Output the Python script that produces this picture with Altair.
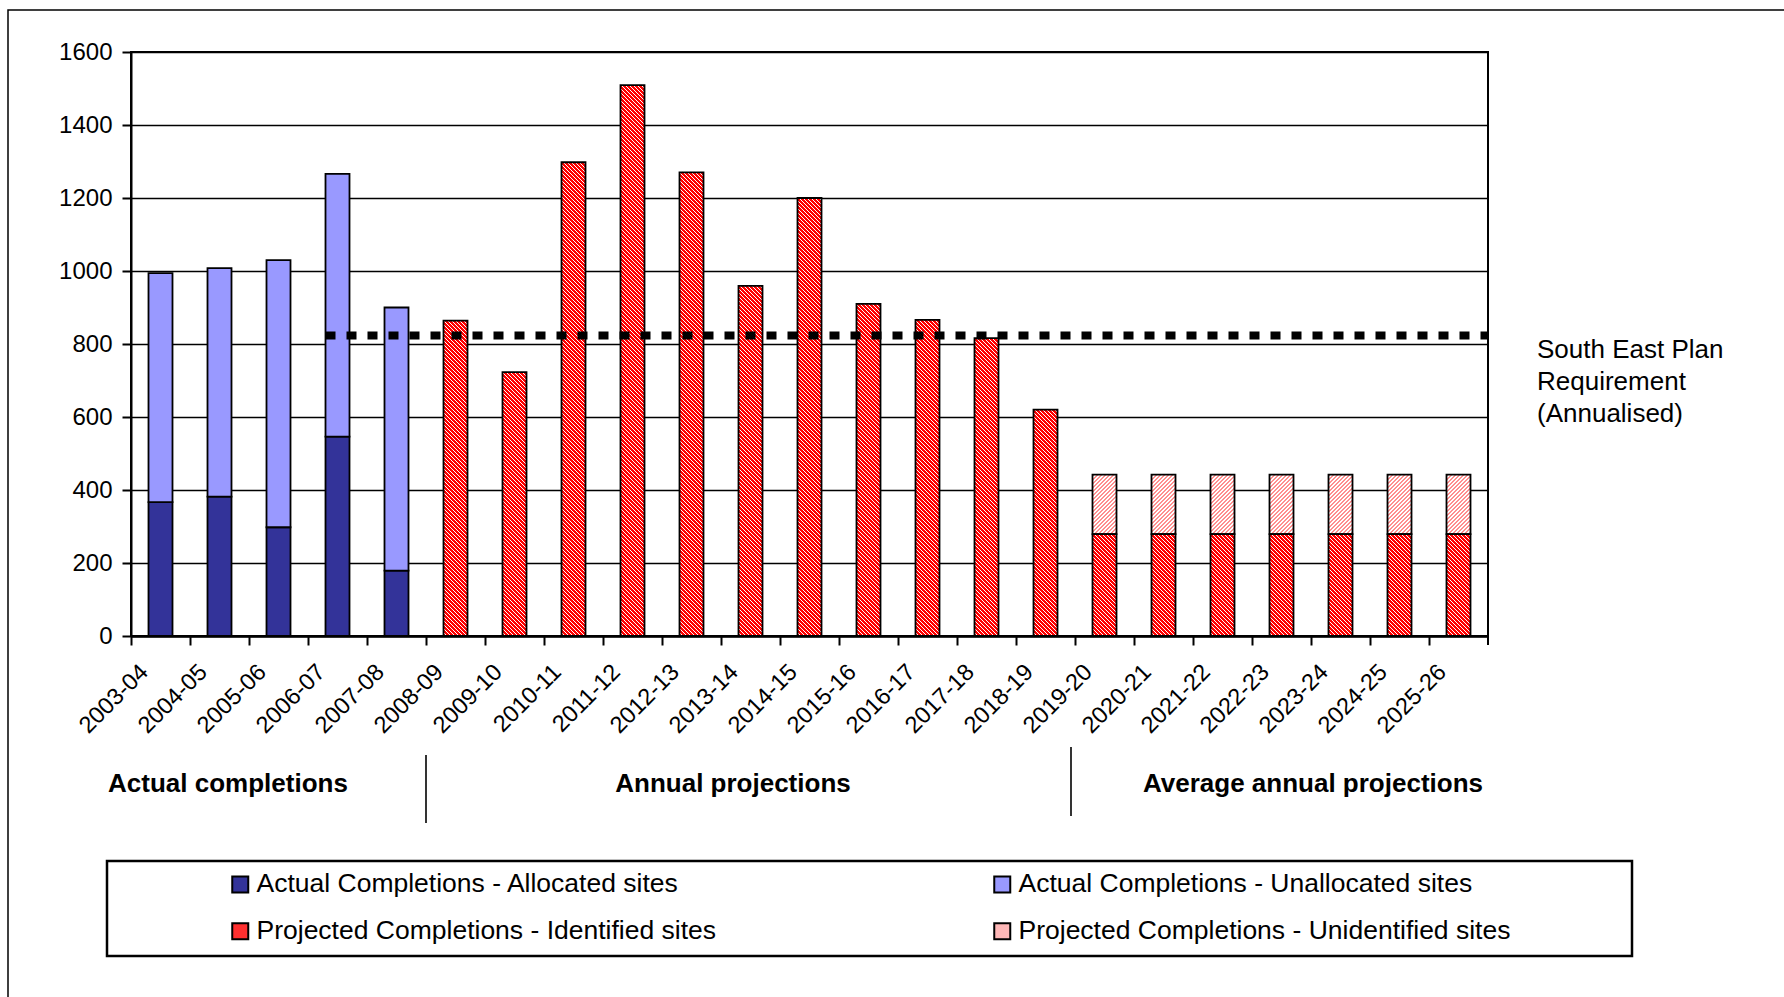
import math
import pandas as pd
import altair as alt

# ---------------- data ----------------
categories = ["2003-04", "2004-05", "2005-06", "2006-07", "2007-08", "2008-09",
              "2009-10", "2010-11", "2011-12", "2012-13", "2013-14", "2014-15",
              "2015-16", "2016-17", "2017-18", "2018-19", "2019-20", "2020-21",
              "2021-22", "2022-23", "2023-24", "2024-25", "2025-26"]
actual_cats = ["2003-04", "2004-05", "2005-06", "2006-07", "2007-08"]
allocated = [367, 382, 298, 546, 179]
unallocated = [627, 626, 732, 720, 721]
projected_cats = ["2008-09", "2009-10", "2010-11", "2011-12", "2012-13", "2013-14",
                  "2014-15", "2015-16", "2016-17", "2017-18", "2018-19", "2019-20",
                  "2020-21", "2021-22", "2022-23", "2023-24", "2024-25", "2025-26"]
identified = [864, 723, 1298, 1509, 1270, 959, 1200, 910, 866, 816, 620,
              279, 279, 279, 279, 279, 279, 279]
average_cats = ["2019-20", "2020-21", "2021-22", "2022-23", "2023-24", "2024-25", "2025-26"]
unidentified = [163, 163, 163, 163, 163, 163, 163]
requirement = 823
requirement_from = "2006-07"
requirement_to = "2025-26"
series_names = ["Actual Completions - Allocated sites",
                "Actual Completions - Unallocated sites",
                "Projected Completions - Identified sites",
                "Projected Completions - Unidentified sites"]
y_ticks = [0, 200, 400, 600, 800, 1000, 1200, 1400, 1600]
group_labels = ["Actual completions", "Annual projections", "Average annual projections"]
requirement_label = ["South East Plan", "Requirement", "(Annualised)"]

# ---------------- layout / style ----------------
FONT = "Liberation Sans"
STEP = 59
PLOT_W, PLOT_H = STEP * len(categories), 584
PAD_L, PAD_T = 131, 52
Y_MAX = 1600
BAR_W = 24
BAR_STROKE = 1.8
PERIOD = 4.0          # hatch period (px)
CHUNK_PX = 48.0       # hatch drawn in chunks of this height (px)
legend_colors = ["#333399", "#9999FF", "#FF3030", "#FFB8B8"]
RED, PINK, WHITE = "#FF0000", "#FF8F8F", "#FFFFFF"

# stacked tables
rows = []
for c, a, u in zip(actual_cats, allocated, unallocated):
    rows.append({"cat": c, "series": series_names[0], "y0": 0, "y1": a})
    rows.append({"cat": c, "series": series_names[1], "y0": a, "y1": a + u})
df_actual = pd.DataFrame(rows)

rows = []
ident_map = dict(zip(projected_cats, identified))
for c, v in zip(projected_cats, identified):
    rows.append({"cat": c, "series": series_names[2], "y0": 0, "y1": v})
for c, v in zip(average_cats, unidentified):
    base = ident_map[c]
    rows.append({"cat": c, "series": series_names[3], "y0": base, "y1": base + v})
df_proj = pd.DataFrame(rows)

xscale = alt.Scale(domain=categories, paddingInner=0, paddingOuter=0)
yscale = alt.Scale(domain=[0, Y_MAX], nice=False)
xaxis = alt.Axis(title=None, bandPosition=0, labelAngle=-45, labelAlign="right",
                 labelBaseline="middle", labelOffset=-16, labelPadding=23,
                 labelFontSize=23.5, labelFont=FONT, labelColor="black",
                 tickSize=9, tickColor="black", tickWidth=2,
                 domainColor="black", domainWidth=2.5, grid=False,
                 labelOverlap=False)
yaxis = alt.Axis(title=None, values=y_ticks, format="d", labelFontSize=24, labelFont=FONT,
                 labelColor="black", labelPadding=10, tickSize=9,
                 tickColor="black", tickWidth=2, domainColor="black",
                 domainWidth=2, grid=True, gridColor="black", gridWidth=1.6)


def X(field="cat", **kw):
    return alt.X(f"{field}:N", scale=xscale, axis=xaxis, sort=categories, **kw)


def Y(field="y0"):
    return alt.Y(f"{field}:Q", scale=yscale, axis=yaxis)


def hatch(w, h, c1, c2, frac1, period, back):
    L = w + h
    n = int(math.ceil(L / period))
    stops = []
    for i in range(n):
        a = min(1.0, i * period / L)
        b = min(1.0, (i + frac1) * period / L)
        c = min(1.0, (i + 1) * period / L)
        stops += [alt.GradientStop(color=c1, offset=a), alt.GradientStop(color=c1, offset=b),
                  alt.GradientStop(color=c2, offset=b), alt.GradientStop(color=c2, offset=c)]
    k = L / (w * w + h * h)
    if back:
        return alt.LinearGradient(gradient="linear", stops=stops, x1=0, y1=1,
                                  x2=k * w, y2=1 - k * h)
    return alt.LinearGradient(gradient="linear", stops=stops, x1=0, y1=0,
                              x2=k * w, y2=k * h)


px_per_val = PLOT_H / Y_MAX
chunk_val = CHUNK_PX / px_per_val
layers = []

# actual completions (solid, carries the legend)
layers.append(
    alt.Chart(df_actual).mark_bar(stroke="black", strokeWidth=BAR_STROKE, width=BAR_W).encode(
        x=X(), y=Y(), y2="y1:Q",
        color=alt.Color("series:N",
                        scale=alt.Scale(domain=series_names, range=legend_colors),
                        legend=alt.Legend(orient="none", legendX=96, legendY=819,
                                          direction="horizontal",
                                          columns=2, columnPadding=272, rowPadding=20,
                                          symbolType="square", symbolSize=256,
                                          symbolStrokeColor="black", symbolStrokeWidth=2,
                                          symbolOpacity=1,
                                          labelFontSize=26.5, labelFont=FONT,
                                          labelColor="black", labelLimit=1000,
                                          labelOffset=3, title=None, padding=0)))
)

# identified sites: hatched in chunks measured from each bar's base
full_rows, part_rows = [], []
for _, r in df_proj[df_proj["series"] == series_names[2]].iterrows():
    total_px = (r["y1"] - r["y0"]) * px_per_val
    n_full = int(total_px // CHUNK_PX)
    for k in range(n_full):
        full_rows.append({"cat": r["cat"], "y0": r["y0"] + k * chunk_val,
                          "y1": r["y0"] + (k + 1) * chunk_val})
    if total_px - n_full * CHUNK_PX > 0.05:
        part_rows.append({"cat": r["cat"], "y0": r["y0"] + n_full * chunk_val, "y1": r["y1"]})

layers.append(
    alt.Chart(pd.DataFrame(full_rows)).mark_bar(
        fill=hatch(BAR_W, CHUNK_PX, RED, WHITE, 0.7, PERIOD, True), strokeWidth=0,
        width=BAR_W).encode(x=X(), y=Y(), y2="y1:Q")
)
for pr in part_rows:
    h = (pr["y1"] - pr["y0"]) * px_per_val
    layers.append(
        alt.Chart(pd.DataFrame([pr])).mark_bar(
            fill=hatch(BAR_W, h, RED, WHITE, 0.7, PERIOD, True), strokeWidth=0,
            width=BAR_W).encode(x=X(), y=Y(), y2="y1:Q")
    )

# unidentified sites: light hatch
for _, r in df_proj[df_proj["series"] == series_names[3]].iterrows():
    h = (r["y1"] - r["y0"]) * px_per_val
    layers.append(
        alt.Chart(pd.DataFrame([r])).mark_bar(
            fill=hatch(BAR_W, h, PINK, WHITE, 0.5, PERIOD, False), strokeWidth=0,
            width=BAR_W).encode(x=X(), y=Y(), y2="y1:Q")
    )

# outlines of projected bars
layers.append(
    alt.Chart(df_proj).mark_bar(fillOpacity=0, stroke="black", strokeWidth=BAR_STROKE,
                                width=BAR_W).encode(x=X(), y=Y(), y2="y1:Q")
)

# requirement dotted line (starts at the left edge of the 2006-07 bar)
df_req = pd.DataFrame({"start": [requirement_from], "end": [requirement_to], "y0": [requirement]})
layers.append(
    alt.Chart(df_req).mark_rule(color="black", strokeWidth=8, strokeDash=[10, 11],
                                strokeCap="butt").encode(
        x=X("start", bandPosition=(STEP - BAR_W) / 2 / STEP),
        x2=alt.X2("end:N", bandPosition=1),
        y=Y())
)

# tick at the right end of the x axis
df_end = pd.DataFrame({"cat": [categories[-1]]})
layers.append(
    alt.Chart(df_end).mark_rule(color="black", strokeWidth=2).encode(
        x=X(bandPosition=1), y=alt.value(PLOT_H), y2=alt.value(PLOT_H + 9))
)

one = pd.DataFrame({"a": [0]})

# requirement label
layers.append(
    alt.Chart(one).mark_text(align="left", baseline="alphabetic", font=FONT, fontSize=26,
                             lineHeight=32, color="black").encode(
        x=alt.value(1537 - PAD_L), y=alt.value(358 - PAD_T),
        text=alt.value(requirement_label))
)

# group labels
for label, cx in zip(group_labels, [228, 733, 1313]):
    layers.append(
        alt.Chart(one).mark_text(align="center", baseline="alphabetic", font=FONT,
                                 fontSize=26, fontWeight="bold", color="black").encode(
            x=alt.value(cx - PAD_L), y=alt.value(792 - PAD_T), text=alt.value(label))
    )

# separators
for sx, sy1, sy2 in [(426, 755, 823), (1071, 747, 816)]:
    layers.append(
        alt.Chart(one).mark_rule(color="black", strokeWidth=1.6).encode(
            x=alt.value(sx - PAD_L), y=alt.value(sy1 - PAD_T), y2=alt.value(sy2 - PAD_T))
    )

# legend box
layers.append(
    alt.Chart(one).mark_rect(fill=None, fillOpacity=0, stroke="black", strokeWidth=2.5).encode(
        x=alt.value(107 - PAD_L), x2=alt.value(1632 - PAD_L),
        y=alt.value(861 - PAD_T), y2=alt.value(956 - PAD_T))
)

# outer frame
layers.append(
    alt.Chart(one).mark_rect(fill=None, fillOpacity=0, stroke="black", strokeWidth=1.5).encode(
        x=alt.value(8 - PAD_L), x2=alt.value(1784 - PAD_L + 20),
        y=alt.value(10 - PAD_T), y2=alt.value(997 - PAD_T + 20))
)

chart = alt.layer(*layers).properties(
    width=PLOT_W, height=PLOT_H,
    autosize=alt.AutoSizeParams(type="none"),
    padding={"left": PAD_L, "top": PAD_T, "right": 1784 - PAD_L - PLOT_W,
             "bottom": 997 - PAD_T - PLOT_H},
    background="white",
).configure_view(stroke="black", strokeWidth=2)

chart.save("out.html", embed_options={"renderer": "svg", "actions": False})
